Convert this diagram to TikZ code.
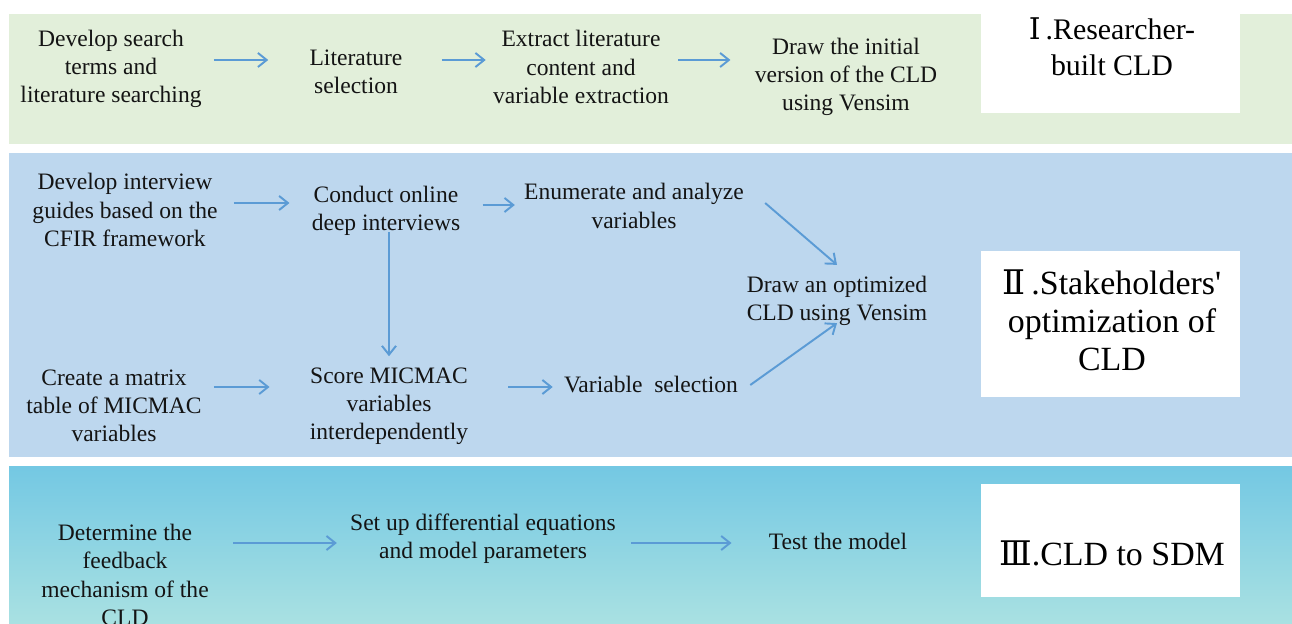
\documentclass[tikz,border=0pt]{standalone}
\usepackage{fontspec}
\setmainfont{Liberation Serif}
\newfontfamily\numfont{DejaVu Serif}
\usepackage{tikz}
\usetikzlibrary{arrows.meta}

\definecolor{bandgreen}{HTML}{E2EFDA}
\definecolor{bandblue}{HTML}{BDD7EE}
\definecolor{bandcyantop}{HTML}{74C8E3}
\definecolor{bandcyanbot}{HTML}{A9E1E2}
\definecolor{flowblue}{HTML}{5B9BD5}

\begin{document}
\begin{tikzpicture}[x=0.02cm, y=-0.02cm,
        stepnode/.style={align=center, inner sep=0pt, text=black!92,
          font=\fontsize{13.4}{16}\selectfont},
        stagenode/.style={align=center, inner sep=0pt, text=black,
          font=\fontsize{19.3}{21.6}\selectfont},
        flow/.style={draw=flowblue, line width=1.1pt,
          -{Straight Barb[length=5pt,width=8pt]}}]
      \useasboundingbox (0,0) rectangle (1292,624);
      \fill[white] (0,0) rectangle (1292,624);
      \fill[bandgreen] (9,14) rectangle (1292,144);
      \fill[bandblue] (9,153) rectangle (1292,457);
      \shade[top color=bandcyantop, bottom color=bandcyanbot] (9,467) rectangle (1292,624);
      \fill[white] (981,14) rectangle (1240,113);
      \fill[white] (981,251) rectangle (1240,397);
      \fill[white] (981,484) rectangle (1240,597);
      \node[stepnode] (search)   at (111,69)  {Develop search\\terms and\\literature searching};
      \node[stepnode] (litsel)   at (356,72)  {Literature\\selection};
      \node[stepnode] (extract)  at (581,67)  {Extract literature\\content and\\variable extraction};
      \node[stepnode] (initial)  at (846,77)  {Draw the initial\\version of the CLD\\using Vensim};
      \node[stepnode] (guide)    at (125,210) {Develop interview\\guides based on the\\CFIR framework};
      \node[stepnode] (conduct)  at (386,211) {Conduct online\\deep interviews};
      \node[stepnode] (enum)     at (634,206) {Enumerate and analyze\\variables};
      \node[stepnode] (optim)    at (837,301) {Draw an optimized\\CLD using Vensim};
      \node[stepnode] (matrix)   at (114,406) {Create a matrix\\table of MICMAC\\variables};
      \node[stepnode] (score)    at (389,406) {Score MICMAC\\variables\\interdependently};
      \node[stepnode] (varsel)   at (651,385) {Variable\ \ selection};
      \node[stepnode] (feedback) at (125,575) {Determine the\\feedback\\mechanism of the\\CLD};
      \node[stepnode] (setup)    at (483,539) {Set up differential equations\\and model parameters};
      \node[stepnode] (test)     at (838,541) {Test the model};
      \node[stagenode, font=\fontsize{17}{20.5}\selectfont] (stage1) at (1112,47)
        {{\numfont Ⅰ}\,.Researcher-\\built CLD};
      \node[stagenode] (stage2) at (1112,320)
        {{\numfont Ⅱ}\,.Stakeholders\textquotesingle\\optimization of\\CLD};
      \node[stagenode] (stage3) at (1112,553) {{\numfont Ⅲ}.CLD to SDM};
      \foreach \a/\sa/\b/\sb in {search/{12,-9}/litsel/{-41,-12}, litsel/{39,-12}/extract/{-7,-7},
          extract/{9,-7}/initial/{-24,-17}, guide/{16,-7}/conduct/{-22,-8},
          conduct/{22,-6}/enum/{-9,-1}, matrix/{12,-19}/score/{-40,-19},
          score/{40,-19}/varsel/{-11,2}, feedback/{24,-32}/setup/{-13,4},
          setup/{15,4}/test/{-37,2}}
        \draw[flow] ([shift={(\sa)}]\a.east) -- ([shift={(\sb)}]\b.west);
      \draw[flow] ([shift={(3,-4)}]conduct.south) -- ([shift={(0,-11)}]score.north);
      \draw[flow] ([shift={(21,-3)}]enum.east) -- ([shift={(0,-11)}]optim.north);
      \draw[flow] ([shift={(12,0)}]varsel.east) -- ([shift={(0,-3)}]optim.south);
\end{tikzpicture}
\end{document}
